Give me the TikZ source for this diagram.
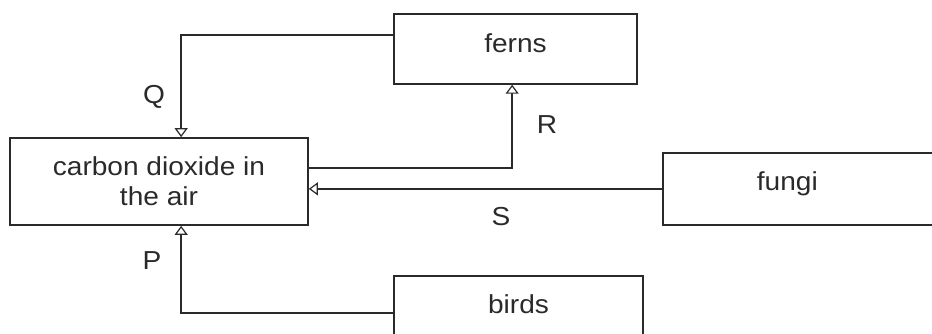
\documentclass[tikz,border=0pt]{standalone}
\usepackage{fontspec}
\setmainfont{Liberation Sans}[FakeStretch=1.08]
\usetikzlibrary{arrows.meta}
\definecolor{ink}{HTML}{2A2A2A}
\tikzset{
  x=1pt, y=-1pt,
  box/.style={draw=ink, line width=1.7pt, rectangle, inner sep=0pt, text=ink,
    font=\fontsize{26}{30}\selectfont},
  lbl/.style={text=ink, inner sep=0pt, font=\fontsize{26}{30}\selectfont},
  arr/.style={draw=ink, line width=1.7pt,
    -{Triangle[open, length=9pt, width=13pt, line width=1.2pt, fill=white]}},
}
\begin{document}
\begin{tikzpicture}
\useasboundingbox (0,0) rectangle (932,333);
\clip (0,0) rectangle (932,333);
% boxes
\node[box, minimum width=298pt, minimum height=87pt, align=center] (co2) at (159,181.5)
  {carbon dioxide in\\the air};
\node[box, minimum width=243pt, text height=39pt, text depth=31pt, anchor=north] (ferns) at (515.5,13) {ferns};
\node[box, anchor=north west, text width=300pt, align=left, text height=38pt, text depth=34pt] (fungi) at (662,152) {\hspace*{94pt}fungi};
\node[box, minimum width=249pt, text height=38pt, text depth=30pt, anchor=north] (birds) at (518.5,275) {birds};
% connectors
\draw[arr] ([yshift=-22pt]ferns.north west) -| ([xshift=172pt]co2.north west);
\draw[arr] ([yshift=-31pt]co2.north east) -| ([xshift=119pt]ferns.south west);
\draw[arr] (fungi.west) -- (co2.east |- fungi.west);
\draw[arr] ([yshift=-38pt]birds.north west) -| ([xshift=172pt]co2.south west);
% labels
\node[lbl] (Q) at (154,97) {Q};
\node[lbl] (R) at (547,125) {R};
\node[lbl] (S) at (501,217) {S};
\node[lbl] (P) at (152,261) {P};
\end{tikzpicture}
\end{document}
